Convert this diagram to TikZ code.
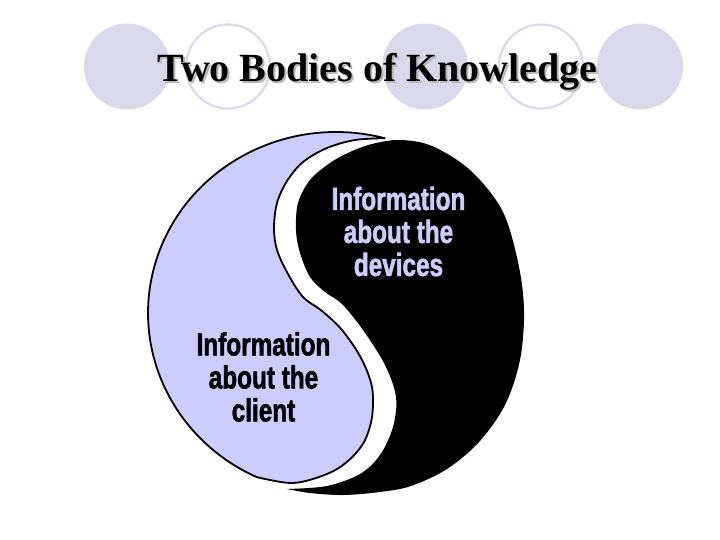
\documentclass[tikz,border=0pt]{standalone}
\usepackage{fontspec}
\setmainfont{Liberation Serif}
\newfontfamily\condfont[FakeStretch=0.76,FakeBold=1.6]{Liberation Sans}
\definecolor{lav}{RGB}{204,204,255}
\definecolor{circ}{RGB}{217,217,235}
\begin{document}
\begin{tikzpicture}[x=1pt,y=-1pt]
\useasboundingbox (0,0) rectangle (720,540);
\tikzset{
 fcirc/.style={circle, fill=circ, draw=none, minimum size=86pt, inner sep=0pt},
 ocirc/.style={circle, draw=circ, line width=2.2pt, minimum size=84pt, inner sep=0pt},
 piecelight/.style={fill=lav, draw=black, line width=1.8pt, line join=round},
 piecedark/.style={fill=black},
 bodytext/.style={font=\condfont\bfseries\fontsize{32}{33}\selectfont, align=center, inner sep=0pt},
 ttl/.style={font=\bfseries\fontsize{40}{42}\selectfont, inner sep=0pt, anchor=base}
}
% decorative circles
\node[fcirc] (c1) at (127,66.5) {};
\node[ocirc] (c2) at (228,66.5) {};
\node[fcirc] (c3) at (425,66.5) {};
\node[ocirc] (c4) at (541,66.5) {};
\node[fcirc] (c5) at (640,66.5) {};
% title
\node[ttl, text=black!28] (tshadow) at (379.5,84) {Two Bodies of Knowledge};
\node[ttl] (title) at (377.5,82) {Two Bodies of Knowledge};
% dark piece
\fill[piecedark] plot[smooth, tension=0.55] coordinates {
 (287,489) (310,493) (343,495) (380,492) (411,486) (447,469) (479,442)
 (505,405) (520,360) (524,310) (518,262) (502,210) (470,170) (432,146)
 (400,140) (372,144) (350,152) (330,163) (310,180) (298,203) (296,230)
 (300,253) (310,277) (325,292) (342,304) (363,330) (385,365) (396,397)
 (393,427) (380,455) (360,474) (327,486) (287,489)} -- cycle;
% light piece
\filldraw[piecelight] (384.7,138.2) arc[start angle=-75, end angle=-245, x radius=188, y radius=181]
 -- plot[smooth, tension=0.55] coordinates {
 (256.5,477) (293,483) (327,474) (348,461) (364,442) (372,417) (372,387)
 (361,358) (342,330) (322,311) (303,297) (288,274) (277,250) (274,228)
 (277,203) (287,181) (303,162) (327,148) (355,140) (384.7,138.2)} -- cycle;
% texts
\node[bodytext, text=lav] (dev) at (398.5,231.5) {Information\\about the\\devices};
\node[bodytext, text=black] (cli) at (263.5,377) {Information\\about the\\client};
\end{tikzpicture}
\end{document}
